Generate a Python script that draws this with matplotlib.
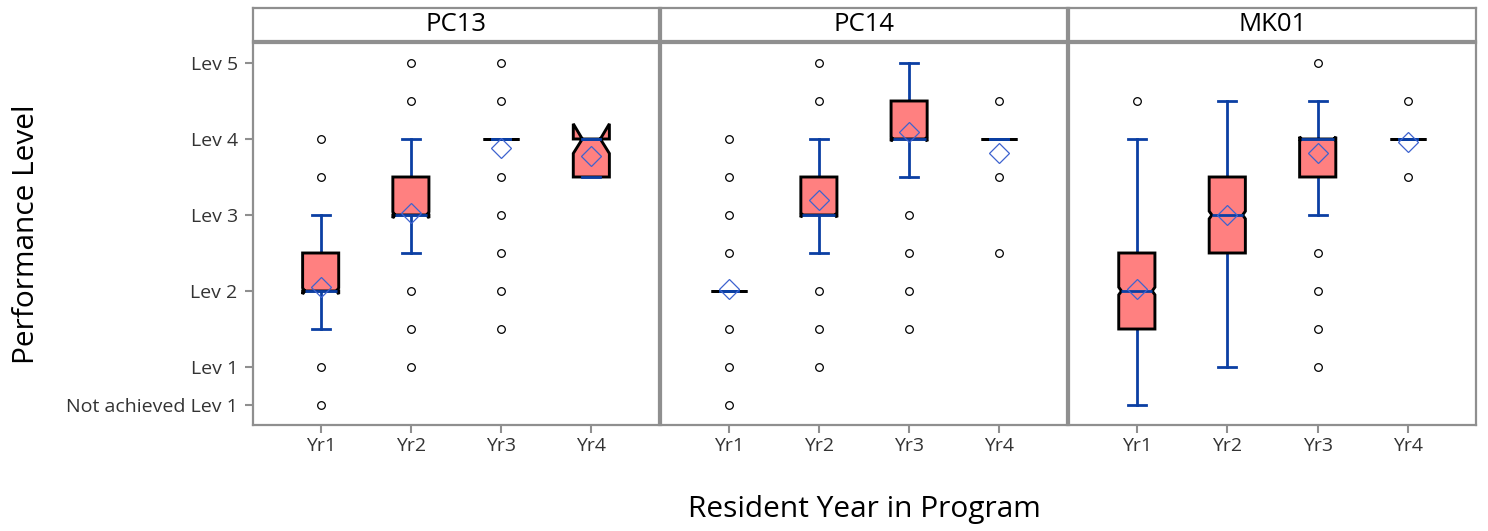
import matplotlib
matplotlib.use("Agg")
import matplotlib.pyplot as plt

# ---------------- data ----------------
panels = ["PC13", "PC14", "MK01"]
years = ["Yr1", "Yr2", "Yr3", "Yr4"]
level_ticks = [0.5, 1, 2, 3, 4, 5]
level_labels = ["Not achieved Lev 1", "Lev 1", "Lev 2", "Lev 3", "Lev 4", "Lev 5"]

q1 = {"PC13": [2.0, 3.0, 4.0, 3.5], "PC14": [2.0, 3.0, 4.0, 4.0], "MK01": [1.5, 2.5, 3.5, 4.0]}
med = {"PC13": [2.0, 3.0, 4.0, 4.0], "PC14": [2.0, 3.0, 4.0, 4.0], "MK01": [2.0, 3.0, 4.0, 4.0]}
q3 = {"PC13": [2.5, 3.5, 4.0, 4.0], "PC14": [2.0, 3.5, 4.5, 4.0], "MK01": [2.5, 3.5, 4.0, 4.0]}
whislo = {"PC13": [1.5, 2.5, 4.0, 3.5], "PC14": [2.0, 2.5, 3.5, 4.0], "MK01": [0.5, 1.0, 3.0, 4.0]}
whishi = {"PC13": [3.0, 4.0, 4.0, 4.0], "PC14": [2.0, 4.0, 5.0, 4.0], "MK01": [4.0, 4.5, 4.5, 4.0]}
means = {"PC13": [2.05, 3.02, 3.88, 3.78], "PC14": [2.02, 3.20, 4.09, 3.81], "MK01": [2.02, 3.00, 3.81, 3.96]}
cilo = {"PC13": [1.96, 2.96, 4.0, 3.81], "PC14": [2.0, 2.97, 3.97, 4.0], "MK01": [1.95, 2.95, 3.97, 4.0]}
cihi = {"PC13": [2.04, 3.04, 4.0, 4.20], "PC14": [2.0, 3.03, 4.03, 4.0], "MK01": [2.05, 3.05, 4.03, 4.0]}
outliers = {
    "PC13": [[0.5, 1, 3.5, 4], [1, 1.5, 2, 4.5, 5], [1.5, 2, 2.5, 3, 3.5, 4.5, 5], []],
    "PC14": [[0.5, 1, 1.5, 2.5, 3, 3.5, 4], [1, 1.5, 2, 4.5, 5], [1.5, 2, 2.5, 3], [2.5, 3.5, 4.5]],
    "MK01": [[4.5], [], [1, 1.5, 2, 2.5, 5], [3.5, 4.5]],
}

# ---------------- style ----------------
FONT = "Open Sans"
plt.rcParams["font.family"] = [FONT, "DejaVu Sans"]
W, H = 1488, 531
FRAME = "#8f8f8f"
BOX_FILL = "#ff8080"
WHISK = "#0b3fa3"
MEAN_C = "#3d63cf"
BOX_W = 0.4
NOTCH_FACTOR = 0.6

fig = plt.figure(figsize=(W / 100, H / 100), dpi=100)

panel_px = [(253, 659), (661, 1067), (1069, 1476)]
plot_top, plot_bot = 43, 425
head_top, head_bot = 8, 41

positions = list(range(1, len(years) + 1))

for i, (name, (x0, x1)) in enumerate(zip(panels, panel_px)):
    ax = fig.add_axes([x0 / W, 1 - plot_bot / H, (x1 - x0) / W, (plot_bot - plot_top) / H])
    stats = []
    for j in range(len(years)):
        stats.append(dict(med=med[name][j], q1=q1[name][j], q3=q3[name][j],
                          whislo=whislo[name][j], whishi=whishi[name][j],
                          mean=means[name][j], cilo=cilo[name][j], cihi=cihi[name][j],
                          fliers=outliers[name][j], label=years[j]))
    bp = ax.bxp(stats, positions=positions, widths=BOX_W, capwidths=BOX_W / 2,
                shownotches=True, showmeans=True, patch_artist=True,
                boxprops=dict(facecolor=BOX_FILL, edgecolor="black", linewidth=2.1, zorder=2),
                whiskerprops=dict(color=WHISK, linewidth=2.0, zorder=1.5),
                capprops=dict(color=WHISK, linewidth=2.0, zorder=4),
                medianprops=dict(color=WHISK, linewidth=2.0, zorder=3),
                meanprops=dict(marker="D", markerfacecolor="none", markeredgecolor=MEAN_C,
                               markersize=10.5, markeredgewidth=0.9, zorder=5),
                flierprops=dict(marker="o", markerfacecolor="none", markeredgecolor="black",
                                markersize=5.5, markeredgewidth=0.9, zorder=5))
    # shallower SAS-like notches
    for patch, st, mline, pos in zip(bp["boxes"], stats, bp["medians"], positions):
        depth = min(NOTCH_FACTOR * (st["cihi"] - st["cilo"]) / 2, BOX_W / 4)
        v = patch.get_path().vertices
        v[3, 0] = pos + BOX_W / 2 - depth
        v[8, 0] = pos - BOX_W / 2 + depth
        mline.set_xdata([pos - BOX_W / 2 + depth, pos + BOX_W / 2 - depth])
        if st["q1"] == st["q3"]:
            mline.set_color("black")
            mline.set_linewidth(2.1)

    ax.set_xlim(0.25, len(years) + 0.75)
    ax.set_ylim(0.5 - 0.263, 5 + 0.263)
    ax.set_xticks(positions)
    ax.set_xticklabels(years, fontsize=14, color="#333333")
    ax.tick_params(axis="x", length=5.5, width=1.5, color=FRAME, pad=3)
    if i == 0:
        ax.set_yticks(level_ticks)
        ax.set_yticklabels(level_labels, fontsize=14, color="#333333")
        ax.tick_params(axis="y", length=6, width=1.5, color=FRAME, pad=5)
    else:
        ax.set_yticks([])
    for s in ax.spines.values():
        s.set_color(FRAME)
        s.set_linewidth(1.6)

    hx = fig.add_axes([x0 / W, 1 - head_bot / H, (x1 - x0) / W, (head_bot - head_top) / H])
    hx.set_xticks([])
    hx.set_yticks([])
    for s in hx.spines.values():
        s.set_color(FRAME)
        s.set_linewidth(1.6)
    hx.text(0.5, 0.5, name, ha="center", va="center", fontsize=18.5,
            color="black", transform=hx.transAxes)

fig.text(864.5 / W, 1 - 509 / H, "Resident Year in Program", ha="center", va="center",
         fontsize=21.5, color="black")
fig.text(27 / W, 1 - 234 / H, "Performance Level", ha="center", va="center",
         rotation=90, fontsize=21.5, color="black")

fig.savefig("out.png", dpi=100)
